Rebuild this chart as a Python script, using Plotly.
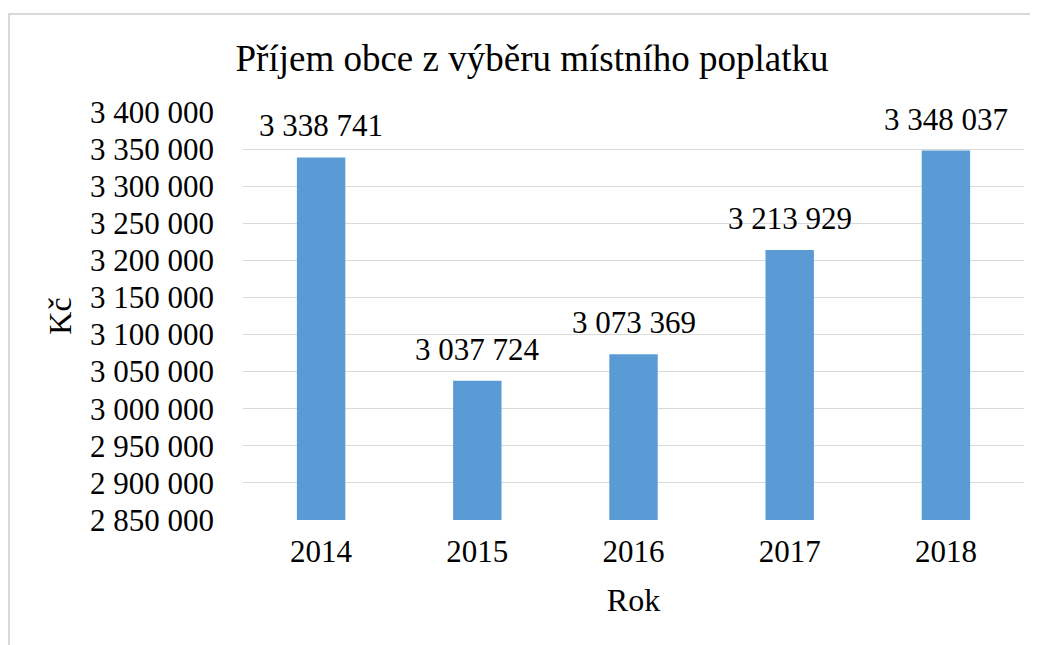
import plotly.graph_objects as go

years = ["2014", "2015", "2016", "2017", "2018"]
income = [3338741, 3037724, 3073369, 3213929, 3348037]

y_min = 2850000
y_max = 3400000
y_step = 50000

font_family = "Liberation Serif, Times New Roman, serif"

# page body has an 8px margin, so the figure is a bit smaller than the window
W, H = 1030, 637
ml, mr, mt, mb = 235, 14, 104, 125
pw = W - ml - mr
ph = H - mt - mb


def fmt(v):
    return "{:,}".format(v).replace(",", " ")


trace = go.Bar(
    x=years,
    y=income,
    marker=dict(color="#5B9BD5", line=dict(width=0)),
    hoverinfo="x+y",
)

# numeric-looking category names get read as indexes in annotations,
# so position the value labels by category index
labels = [
    dict(
        x=i,
        y=val,
        xref="x",
        yref="y",
        text=fmt(val),
        showarrow=False,
        xanchor="center",
        yanchor="bottom",
        yshift=12,
        font=dict(family=font_family, size=31, color="#000000"),
    )
    for i, val in enumerate(income)
]

layout = go.Layout(
    width=W,
    height=H,
    margin=dict(l=ml, r=mr, t=mt, b=mb),
    paper_bgcolor="white",
    plot_bgcolor="white",
    font=dict(family=font_family, color="#000000", size=31),
    separators=", ",
    bargap=0.69,
    showlegend=False,
    title=dict(
        text="Příjem obce z výběru místního poplatku",
        x=524 / W,
        xref="container",
        xanchor="center",
        y=1 - 50 / H,
        yref="container",
        yanchor="middle",
        font=dict(size=37, family=font_family, color="#000000"),
    ),
    xaxis=dict(
        type="category",
        range=[-0.5, len(years) - 0.5],
        title=dict(text="Rok", font=dict(size=32), standoff=20),
        showgrid=False,
        showline=False,
        zeroline=False,
        ticklabelstandoff=10,
        tickfont=dict(size=31),
    ),
    yaxis=dict(
        title=dict(text="Kč", font=dict(size=32), standoff=8),
        range=[y_min, y_max],
        dtick=y_step,
        tick0=y_min,
        tickformat=",d",
        showgrid=True,
        gridcolor="#D9D9D9",
        gridwidth=1.3,
        zeroline=False,
        showline=False,
        ticklabelstandoff=28,
        tickfont=dict(size=31),
    ),
    annotations=labels,
    shapes=[
        dict(
            type="rect",
            xref="paper",
            yref="paper",
            x0=(1 - ml) / pw,
            x1=(W + 20 - ml) / pw,
            y0=(mb - H - 20) / ph,
            y1=(H - 6 - mb) / ph,
            line=dict(color="#D9D9D9", width=2),
            fillcolor="rgba(0,0,0,0)",
            layer="below",
        )
    ],
)

fig = go.Figure(data=[trace], layout=layout)
fig.write_html("out.html")
